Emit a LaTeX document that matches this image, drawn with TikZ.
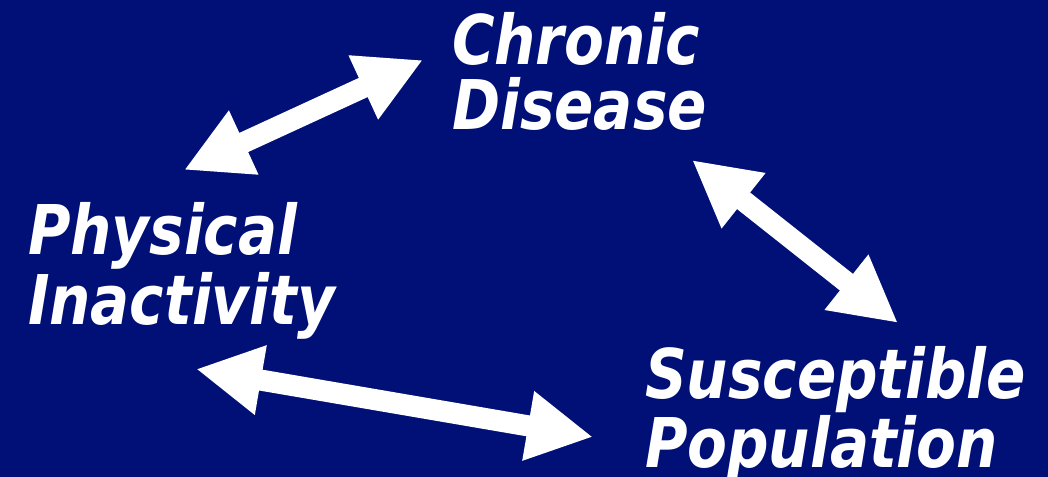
\documentclass[tikz,border=0pt]{standalone}
\usepackage{fontspec}
\newfontfamily\lblfont[FakeStretch=0.94]{DejaVu Sans Condensed}
\usetikzlibrary{arrows.meta}
\definecolor{navy}{RGB}{0,16,118}
\tikzset{
  lbl/.style = {
    text=white, align=left, anchor=base west,
    font=\lblfont\bfseries\itshape\fontsize{19.5}{18.5}\selectfont,
    inner sep=0pt, outer sep=0pt
  },
  dbl/.style = {{Triangle[length=18.7pt,width=18.7pt]}-{Triangle[length=18.7pt,width=18.7pt]},
                white, line width=6pt}
}

\begin{document}
\begin{tikzpicture}[x=0.01cm, y=-0.01cm]
  \useasboundingbox (0,0) rectangle (1048,477);
  \fill[navy] (0,0) rectangle (1048,477);

  %% Labels (anchored at the baseline of the last line)
  \node[lbl] (chronic) at (452, 130) {Chronic\\Disease};
  \node[lbl] (inact)   at (28, 325)  {Physical\\Inactivity};
  \node[lbl] (suscep)  at (645, 468) {Susceptible\\Population};

  %% Arrow ends
  \coordinate (A1) at (184, 170);
  \coordinate (B1) at (423, 60);
  \coordinate (A2) at (196, 369);
  \coordinate (B2) at (593, 437);
  \coordinate (A3) at (692, 160);
  \coordinate (B3) at (898, 323);

  %% Double arrows
  \draw[dbl] (A1) -- (B1);
  \draw[dbl] (A2) -- (B2);
  \draw[dbl] (A3) -- (B3);

\end{tikzpicture}
\end{document}
